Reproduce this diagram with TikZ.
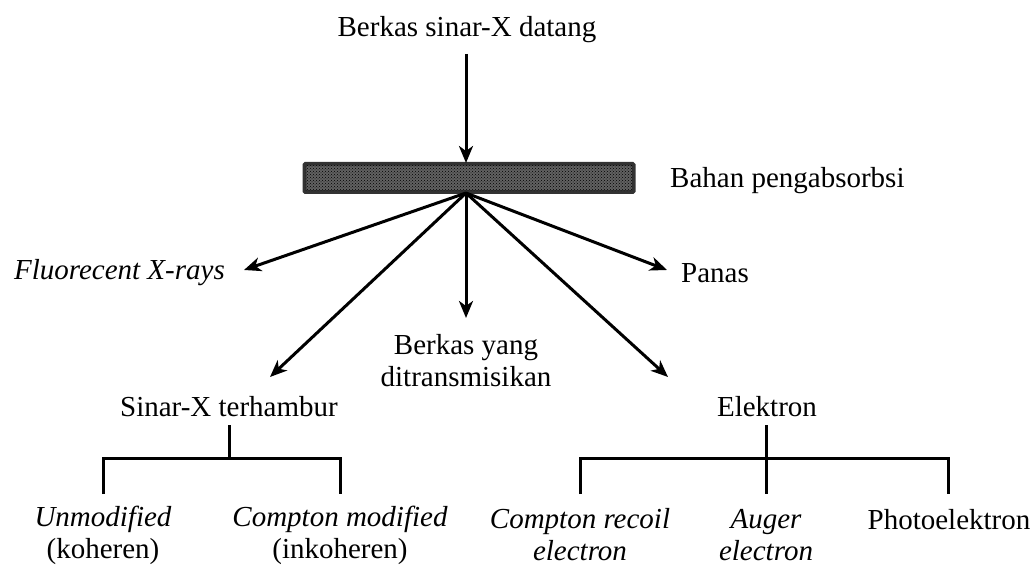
\documentclass[tikz,border=0pt]{standalone}
\usepackage{fontspec}
\setmainfont{Liberation Serif}
\usetikzlibrary{arrows.meta,patterns}
\begin{document}
\begin{tikzpicture}[x=1pt,y=-1pt,
  lbl/.style={font=\fontsize{29}{32}\selectfont, inner sep=0pt, align=center},
  arr/.style={line width=3pt, -{Stealth[length=17pt,width=14pt,inset=5pt]}},
  ln/.style={line width=3pt}]
\useasboundingbox (0,0) rectangle (1035,569);
% top
\node[lbl] (src) at (467,30) {Berkas sinar-X datang};
\node[draw=black!80, line width=2.5pt, fill=black!62, minimum width=328pt, minimum height=27pt, inner sep=0pt, rounded corners=1.5pt] (bar) at (469,178) {};
\fill[pattern=crosshatch dots, pattern color=black] (bar.south west) rectangle (bar.north east);
\draw[black!80, line width=2.5pt, rounded corners=1.5pt] (bar.south west) rectangle (bar.north east);
\coordinate (in) at (466,163);
\coordinate (out) at (466,193);
\draw[arr] (466,54) -- (in);
\node[lbl, anchor=west] (abs) at (670,181) {Bahan pengabsorbsi};
% outputs
\node[lbl, anchor=east] (fluo) at (225,273) {\itshape Fluorecent X-rays};
\node[lbl, anchor=west] (panas) at (681,273) {Panas};
\node[lbl] (trans) at (466,361) {Berkas yang\\ditransmisikan};
\node[lbl] (scat) at (229,407) {Sinar-X terhambur};
\node[lbl] (elek) at (767,407) {Elektron};
\coordinate (fluoE) at (244,270);
\coordinate (panasE) at (667,270);
\coordinate (transE) at (466,318);
\coordinate (scatE) at (270,377);
\coordinate (elekE) at (668,377);
\draw[arr] (out) -- (fluoE);
\draw[arr] (out) -- (panasE);
\draw[arr] (out) -- (transE);
\draw[arr] (out) -- (scatE);
\draw[arr] (out) -- (elekE);
% left tree
\node[lbl, font=\fontsize{29}{32}\selectfont\itshape] (unmod) at (103,535) {Unmodified\\\upshape(koheren)};
\node[lbl, font=\fontsize{29}{32}\selectfont\itshape] (cmod) at (340,535) {Compton modified\\\upshape(inkoheren)};
\coordinate (lt) at (229,425);
\coordinate (lj) at (229,458);
\draw[ln] (lt) -- (lj);
\draw[ln] (103,494) |- (lj) -| (340,494);
% right tree
\node[lbl, font=\fontsize{29}{32}\selectfont\itshape] (crec) at (580,535) {Compton recoil\\electron};
\node[lbl, font=\fontsize{29}{32}\selectfont\itshape] (aug) at (766,535) {Auger\\electron};
\node[lbl] (photo) at (949,520) {Photoelektron};
\coordinate (rt) at (766,425);
\coordinate (rj) at (766,458);
\draw[ln] (rt) -- (766,494);
\draw[ln] (580,494) |- (rj) -| (948,494);
\end{tikzpicture}
\end{document}
